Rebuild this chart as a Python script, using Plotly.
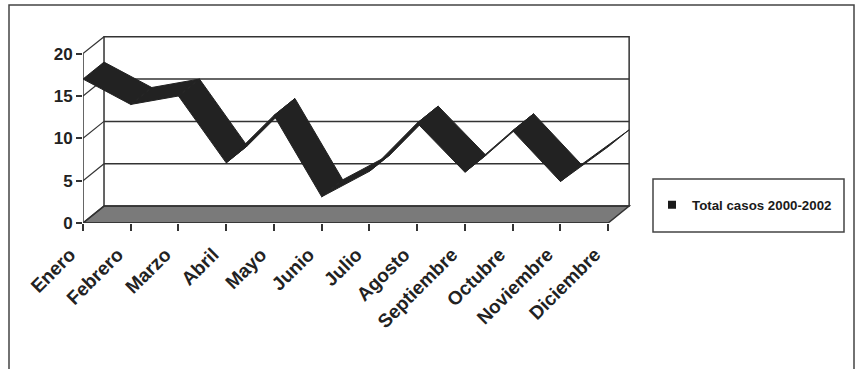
import plotly.graph_objects as go

# ---- data ----
months = ["Enero", "Febrero", "Marzo", "Abril", "Mayo", "Junio", "Julio",
          "Agosto", "Septiembre", "Octubre", "Noviembre", "Diciembre"]
casos = [17.0, 14.0, 15.0, 7.1, 12.7, 3.1, 6.1, 11.8, 6.0, 10.9, 4.9, 9.0]
y_ticks = [0, 5, 10, 15, 20]
series_name = "Total casos 2000-2002"

# ---- 3D look (oblique depth offset, in axis units) ----
DX = 0.44
DY = 2.0
YMAX = 20

W, H = 858, 369
ML, MR, MT, MB = 83, 226, 35, 146
PW, PH = W - ML - MR, H - MT - MB
XR = [0, 11.5]
YR = [0, 22.2]

FONT = "Liberation Sans, Arial, sans-serif"
EDGE = "#333333"
RIB = "#222222"


def px_to_paper(px, py):
    return (px - ML) / PW, (H - MB - py) / PH


n = len(months)
xi = list(range(n))

fig = go.Figure()

# ribbon segments
for i in range(n - 1):
    x0, x1 = xi[i], xi[i + 1]
    v0, v1 = casos[i], casos[i + 1]
    fig.add_trace(go.Scatter(
        x=[x0, x1, x1 + DX, x0 + DX, x0],
        y=[v0, v1, v1 + DY, v0 + DY, v0],
        mode="lines", fill="toself", fillcolor=RIB,
        line=dict(color=RIB, width=1),
        hoverinfo="skip", showlegend=False))

# legend entry
fig.add_trace(go.Scatter(
    x=[None], y=[None], mode="markers", name=series_name,
    marker=dict(symbol="square", size=8, color="#1a1a1a"),
    showlegend=True))

shapes = []
last = xi[-1]
# floor
shapes.append(dict(type="path", xref="x", yref="y", layer="below",
                   path=f"M 0 0 L {last} 0 L {last + DX} {DY} L {DX} {DY} Z",
                   fillcolor="#7a7a7a", line=dict(color=EDGE, width=1.5)))
# back wall
shapes.append(dict(type="rect", xref="x", yref="y", layer="below",
                   x0=DX, y0=DY, x1=last + DX, y1=YMAX + DY,
                   fillcolor="rgba(0,0,0,0)", line=dict(color=EDGE, width=1.5)))
for v in y_ticks[1:-1]:
    shapes.append(dict(type="line", xref="x", yref="y", layer="below",
                       x0=DX, y0=v + DY, x1=last + DX, y1=v + DY,
                       line=dict(color=EDGE, width=1.5)))
# side wall
shapes.append(dict(type="line", xref="x", yref="y", layer="below",
                   x0=0, y0=0, x1=0, y1=YMAX, line=dict(color=EDGE, width=1.5)))
for v in y_ticks:
    shapes.append(dict(type="line", xref="x", yref="y", layer="below",
                       x0=0, y0=v, x1=DX, y1=v + DY,
                       line=dict(color=EDGE, width=1.2)))
# front baseline
shapes.append(dict(type="line", xref="x", yref="y", layer="below",
                   x0=0, y0=0, x1=last, y1=0, line=dict(color=EDGE, width=1.5)))

# legend box
lx0, ly0 = px_to_paper(653, 179)
lx1, ly1 = px_to_paper(844, 232)
shapes.append(dict(type="rect", xref="paper", yref="paper",
                   x0=lx0, y0=ly1, x1=lx1, y1=ly0,
                   line=dict(color="#444444", width=1.5), fillcolor="white",
                   layer="below"))
# outer frame
fx0, fy0 = px_to_paper(9, 5)
fx1, fy1 = px_to_paper(854, 400)
shapes.append(dict(type="rect", xref="paper", yref="paper",
                   x0=fx0, y0=fy1, x1=fx1, y1=fy0,
                   line=dict(color="#444444", width=1.5),
                   fillcolor="rgba(0,0,0,0)", layer="below"))

legx, legy = px_to_paper(652, 205)

fig.update_layout(
    width=W, height=H,
    margin=dict(l=ML, r=MR, t=MT, b=MB, pad=0),
    paper_bgcolor="white", plot_bgcolor="white",
    font=dict(family=FONT, color="#222222"),
    shapes=shapes,
    showlegend=True,
    legend=dict(x=legx, y=legy, xanchor="left", yanchor="middle",
                bgcolor="rgba(0,0,0,0)", borderwidth=0,
                font=dict(family=FONT, size=13.3, color="#1a1a1a", weight="bold"),
                itemwidth=30),
    xaxis=dict(range=XR, tickmode="array", tickvals=xi, ticktext=months,
               tickangle=-45, ticks="outside", ticklen=7, tickwidth=1.5,
               tickcolor=EDGE, showgrid=False, zeroline=False, showline=False,
               ticklabelstandoff=5, ticklabelshift=-13,
               tickfont=dict(family=FONT, size=19, color="#222222", weight="bold"),
               fixedrange=True),
    yaxis=dict(range=YR, tickmode="array", tickvals=y_ticks,
               ticks="outside", ticklen=6, tickwidth=1.5, tickcolor=EDGE,
               showgrid=False, zeroline=False, showline=False,
               tickfont=dict(family=FONT, size=17, color="#222222", weight="bold"),
               fixedrange=True),
)

fig.write_html("out.html")
